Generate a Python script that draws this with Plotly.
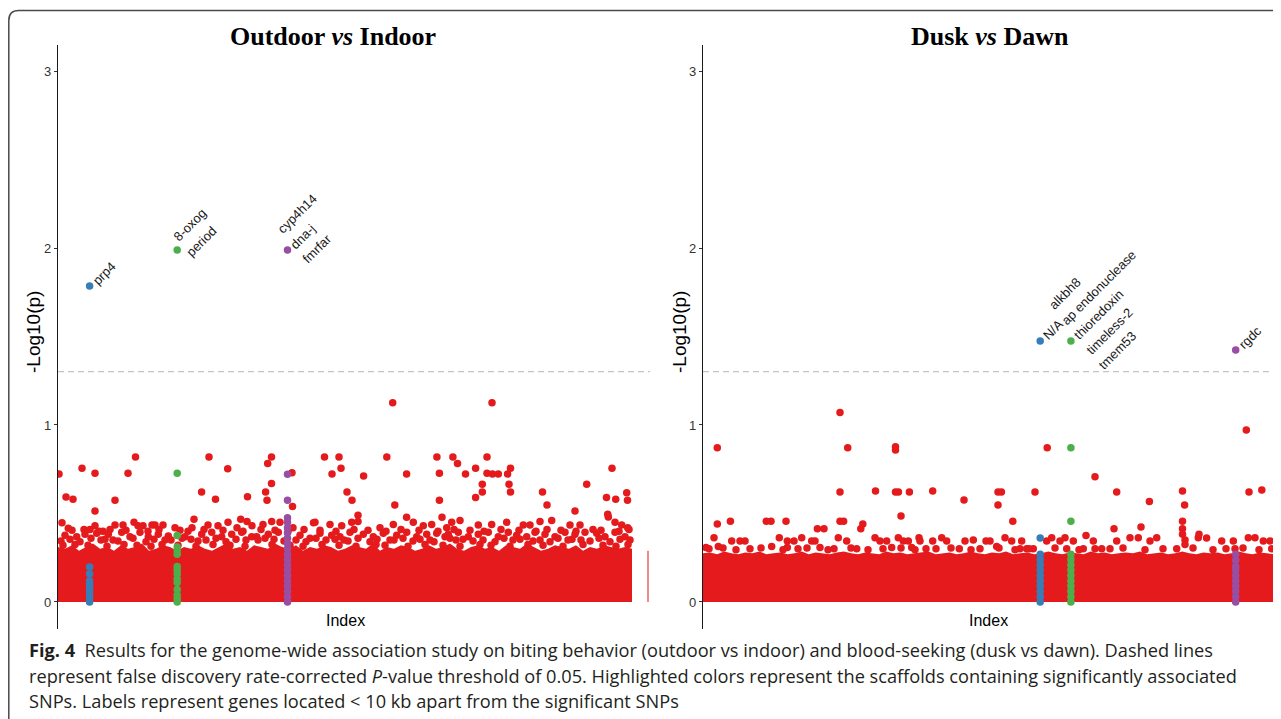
import plotly.graph_objects as go

# The page body has an 8px margin, so the figure is sized to fill the rest of the window.
PAGE_OFF = 8
FIG_W, FIG_H = 1281 - PAGE_OFF, 719 - PAGE_OFF
RED, BLUE, GREEN, PURPLE = "#E41A1C", "#377EB8", "#4DAF4A", "#984EA3"
THRESH = 1.30103  # -log10(0.05), FDR threshold

# ======================= Outdoor vs Indoor (left) =======================
out_title = "<b>Outdoor <i>vs</i> Indoor</b>"
# upper edge of the dense mass of non-significant SNPs (index 0 .. 574)
out_band = [0.31, 0.30, 0.32, 0.29, 0.31, 0.33, 0.30, 0.31, 0.29, 0.32, 0.30, 0.31, 0.33, 0.29,
            0.30, 0.32, 0.31, 0.29, 0.31, 0.30, 0.32, 0.30, 0.29, 0.31, 0.33, 0.30, 0.31, 0.29,
            0.32, 0.31, 0.30, 0.33, 0.31, 0.30, 0.32, 0.29, 0.31, 0.30, 0.32, 0.31, 0.29, 0.30,
            0.32, 0.31, 0.30, 0.33, 0.29, 0.31, 0.30, 0.32, 0.31, 0.29, 0.30, 0.32, 0.30, 0.31,
            0.33, 0.30, 0.29, 0.31, 0.32, 0.30, 0.31, 0.29, 0.32, 0.31, 0.30, 0.33, 0.31, 0.29,
            0.30, 0.32, 0.31, 0.30, 0.32, 0.29, 0.31, 0.30, 0.32, 0.31, 0.30, 0.31, 0.30]
out_band_end = 574
out_edge_x = [589.7]
out_edge_y = [0.29]

# sparse SNPs above the mass
out_top_x = [1, 4, 8, 15, 24, 37, 37, 57, 70, 77.5, 136, 143.6, 151, 157.5, 169.7, 182.7, 189.5,
             207.6, 209, 209.7, 213.5, 213.5, 234, 234.5, 255.5, 266.5, 274, 281, 283, 289, 294,
             300, 305.6, 328.8, 334.7, 336.8, 348.6, 348.6, 378.9, 381.4, 381.4, 384, 394.9, 399.5,
             407.5, 417.6, 417.6, 424.3, 424.3, 429, 429, 434, 434.4, 440.3, 449.6, 452.5, 451,
             452.5, 484.5, 489, 517, 528.7, 548.5, 549.7, 554, 557.7, 568.7, 569.5]
out_top_y = [0.723, 0.448, 0.593, 0.58, 0.755, 0.727, 0.514, 0.574, 0.727, 0.819, 0.467, 0.622,
             0.819, 0.58, 0.753, 0.467, 0.594, 0.622, 0.574, 0.783, 0.819, 0.67, 0.73, 0.539,
             0.448, 0.819, 0.723, 0.819, 0.755, 0.622, 0.574, 0.49, 0.712, 0.819, 1.126, 0.548,
             0.723, 0.478, 0.819, 0.727, 0.574, 0.478, 0.819, 0.783, 0.723, 0.755, 0.59, 0.622,
             0.665, 0.819, 0.727, 1.126, 0.723, 0.723, 0.723, 0.755, 0.665, 0.622, 0.622, 0.548,
             0.514, 0.665, 0.59, 0.496, 0.755, 0.58, 0.617, 0.574]
# the cloud of SNPs just above the mass
out_cloud_x = [10.3, 32, 37, 45, 57, 65, 76, 80, 85, 94, 97, 105, 117, 134, 150, 160, 170, 179, 189,
               194, 205, 213.7, 222, 235, 257, 272, 283.7, 293.7, 300, 322, 335.3, 355.3, 365.3,
               373.7, 388.7, 393.7, 402, 420.3, 433.7, 448.7, 465.3, 472, 482, 493.7, 512, 522,
               550.3, 557, 563.7, 569.7,
               14, 26, 41, 52, 68, 90, 101, 122, 130, 146, 165, 185, 203, 217, 230, 246, 262, 278,
               296, 310, 328, 343, 361, 380, 396, 412, 426, 443, 461, 478, 489, 503, 518, 535, 543,
               561, 571,
               7, 18.7, 27, 38.7, 50.3, 63.7, 72, 82, 90.3, 100.3, 110.3, 127, 143.7, 153.7, 163.7,
               173.7, 183.7, 193.7, 198.7, 210.3, 220.3, 242, 252, 262, 273.7, 282, 292, 305.3,
               315.3, 325.3, 338.7, 348.7, 358.7, 368.7, 378.7, 387, 390.3, 400.3, 410.3, 420.3,
               430.3, 440.3, 450.3, 458.7, 468.7, 477, 487, 497, 507, 517, 527, 538.7, 547, 557, 567,
               12, 33, 47, 55, 75, 96, 107, 124, 133, 148, 158, 178, 188, 207, 216, 238, 258, 277,
               286, 300, 319, 336, 345, 362, 372, 392, 405, 425, 446, 462, 482, 500, 514, 523, 541,
               562,
               3, 22, 43, 60, 88, 113, 140, 168, 200, 226, 248, 268, 290, 312, 332, 355, 376, 398,
               415, 437, 455, 475, 492, 510, 532, 552, 572,
               5, 17, 30, 49, 66, 79, 93, 104, 120, 138, 155, 172, 187, 214, 232, 245, 264, 281,
               298, 318, 327, 350, 367, 385, 402, 422, 433, 452, 470, 485, 505, 525, 545, 558, 570]
out_cloud_y = [0.416, 0.41, 0.43, 0.40, 0.435, 0.435, 0.45, 0.43, 0.43, 0.435, 0.435, 0.435, 0.42,
               0.42, 0.435, 0.43, 0.45, 0.42, 0.455, 0.43, 0.437, 0.455, 0.45, 0.42, 0.45, 0.437,
               0.43, 0.45, 0.455, 0.42, 0.437, 0.45, 0.43, 0.437, 0.42, 0.45, 0.46, 0.435, 0.437,
               0.45, 0.435, 0.435, 0.455, 0.46, 0.435, 0.435, 0.48, 0.45, 0.435, 0.42,
               0.405, 0.41, 0.40, 0.41, 0.405, 0.40, 0.41, 0.405, 0.40, 0.41, 0.405, 0.40, 0.41,
               0.405, 0.40, 0.41, 0.405, 0.40, 0.41, 0.405, 0.40, 0.41, 0.405, 0.40, 0.41, 0.405,
               0.40, 0.41, 0.405, 0.40, 0.41, 0.405, 0.40, 0.41, 0.405, 0.40, 0.41,
               0.377, 0.369, 0.382, 0.388, 0.382, 0.394, 0.369, 0.394, 0.369, 0.382, 0.373, 0.369,
               0.382, 0.394, 0.369, 0.382, 0.394, 0.369, 0.369, 0.382, 0.394, 0.377, 0.36, 0.388,
               0.377, 0.369, 0.394, 0.382, 0.369, 0.388, 0.377, 0.394, 0.369, 0.382, 0.388, 0.369,
               0.382, 0.394, 0.369, 0.382, 0.394, 0.369, 0.394, 0.377, 0.369, 0.394, 0.382, 0.369,
               0.394, 0.382, 0.394, 0.388, 0.369, 0.394, 0.369,
               0.355, 0.36, 0.355, 0.35, 0.36, 0.355, 0.35, 0.36, 0.355, 0.35, 0.36, 0.355, 0.35,
               0.36, 0.355, 0.35, 0.36, 0.355, 0.35, 0.36, 0.355, 0.35, 0.36, 0.355, 0.35, 0.36,
               0.355, 0.35, 0.36, 0.355, 0.35, 0.36, 0.355, 0.35, 0.36, 0.355,
               0.345, 0.34, 0.35, 0.345, 0.34, 0.35, 0.345, 0.34, 0.35, 0.345, 0.34, 0.35, 0.345,
               0.34, 0.35, 0.345, 0.34, 0.35, 0.345, 0.34, 0.35, 0.345, 0.34, 0.35, 0.345, 0.34,
               0.35,
               0.32, 0.325, 0.32, 0.315, 0.325, 0.32, 0.315, 0.325, 0.32, 0.315, 0.325, 0.32,
               0.315, 0.325, 0.32, 0.315, 0.325, 0.32, 0.315, 0.325, 0.32, 0.315, 0.325, 0.32,
               0.315, 0.325, 0.32, 0.315, 0.325, 0.32, 0.315, 0.325, 0.32, 0.315, 0.325]

# highlighted scaffolds
out_hl = [
    dict(color=BLUE, x=31.6,
         y=[0.0, 0.02, 0.04, 0.06, 0.08, 0.10, 0.12, 0.16, 0.197, 1.785],
         top=1.785, label=["prp4"]),
    dict(color=GREEN, x=119.2,
         y=[0.0, 0.02, 0.04, 0.07, 0.11, 0.13, 0.16, 0.18, 0.20, 0.27, 0.29, 0.31, 0.375, 0.727, 1.989],
         top=1.989, label=["8-oxog", "period"]),
    dict(color=PURPLE, x=229.5,
         y=[0.0, 0.03, 0.06, 0.09, 0.12, 0.15, 0.18, 0.21, 0.24, 0.27, 0.30, 0.33, 0.36, 0.39,
            0.42, 0.45, 0.476, 0.574, 0.722, 1.989],
         top=1.989, label=["cyp4h14", "dna-j", "fmrfar"]),
]

# ======================= Dusk vs Dawn (right) =======================
dd_title = "<b>Dusk <i>vs</i> Dawn</b>"
dd_band = [0.275, 0.28, 0.27, 0.285, 0.275, 0.27, 0.28, 0.275, 0.285, 0.27, 0.275, 0.28, 0.27,
           0.275, 0.285, 0.27, 0.28, 0.275, 0.27, 0.28, 0.285, 0.275, 0.27, 0.28, 0.275, 0.27,
           0.285, 0.275, 0.28, 0.27, 0.275, 0.28, 0.285, 0.27, 0.275, 0.28, 0.27, 0.275, 0.285,
           0.275, 0.27, 0.28, 0.275, 0.285, 0.27, 0.275, 0.28, 0.27, 0.275, 0.285, 0.275, 0.27,
           0.28, 0.275, 0.27, 0.285, 0.275, 0.28, 0.27, 0.275, 0.28, 0.275, 0.285, 0.27, 0.275,
           0.28, 0.27, 0.275, 0.285, 0.275, 0.27, 0.28, 0.275, 0.28, 0.27, 0.275, 0.285, 0.275,
           0.27, 0.28, 0.275, 0.27, 0.28]
dd_band_end = 578

dd_top_x = [14.3, 14.3, 137, 137, 137, 140.6, 144.7, 157.8, 159.8, 172.5, 192.5, 192.5, 192.5,
            195.4, 198, 206.4, 229.7, 261, 295, 295, 298.4, 309.8, 332, 344.2, 383, 392, 413.7,
            411, 438, 446.4, 479.5, 481.6, 479.5, 479.5, 479.5, 496, 503.6, 543.3, 546, 558.8,
            27.4, 63.3, 68, 83, 114.4, 121]
dd_top_y = [0.872, 0.441, 1.07, 0.621, 0.456, 0.456, 0.872, 0.414, 0.441, 0.627, 0.877, 0.859,
            0.621, 0.621, 0.486, 0.621, 0.627, 0.576, 0.621, 0.548, 0.621, 0.456, 0.621, 0.872,
            0.376, 0.708, 0.621, 0.414, 0.424, 0.567, 0.627, 0.548, 0.456, 0.414, 0.382, 0.382,
            0.361, 0.972, 0.621, 0.633,
            0.456, 0.456, 0.456, 0.456, 0.414, 0.414]
dd_cloud_x = [3, 11, 15.3, 28.7, 37, 42, 68.7, 76.3, 84.3, 84.3, 91, 98.7, 108.7, 112, 117, 135.3,
              143.7, 153.7, 172, 177, 183.7, 188.7, 195.3, 200.3, 205.3, 208.7, 216, 217, 223,
              229.7, 238.7, 243.7, 256.3, 262, 270.3, 283,
              287, 293.7, 302, 308.7, 318.7, 317, 323.7, 330.3, 343.7, 348.7, 357, 362, 363.7,
              370.3, 380.3, 390.3, 398.7, 413.7, 407, 427, 435.3, 447, 453.7, 473.7, 482, 482,
              495.3, 518.7, 530.3, 532, 545.3, 552, 560.3, 567, 568.7,
              6, 20, 33, 47, 58, 80, 95, 104, 125, 131, 148, 165, 180, 198, 212, 233, 248, 268,
              277, 296, 312, 326, 352, 376, 392, 420, 442, 460, 490, 510, 523, 540, 556, 575]
dd_cloud_y = [0.307, 0.363, 0.313, 0.345, 0.345, 0.345, 0.313, 0.363, 0.345, 0.307, 0.345, 0.363,
              0.345, 0.345, 0.307, 0.363, 0.345, 0.30, 0.363, 0.345, 0.345, 0.307, 0.363, 0.345,
              0.345, 0.307, 0.363, 0.345, 0.30, 0.345, 0.363, 0.345, 0.30, 0.345, 0.35, 0.345,
              0.345, 0.313, 0.363, 0.345, 0.345, 0.30, 0.30, 0.30, 0.345, 0.363, 0.345, 0.363,
              0.30, 0.345, 0.30, 0.345, 0.30, 0.345, 0.30, 0.363, 0.363, 0.345, 0.363, 0.30, 0.35,
              0.325, 0.363, 0.345, 0.345, 0.30, 0.363, 0.363, 0.345, 0.345, 0.30,
              0.30, 0.305, 0.295, 0.30, 0.305, 0.295, 0.30, 0.305, 0.295, 0.30, 0.305, 0.295,
              0.30, 0.305, 0.295, 0.30, 0.305, 0.295, 0.30, 0.305, 0.295, 0.30, 0.305, 0.295,
              0.30, 0.305, 0.295, 0.30, 0.305, 0.295, 0.30, 0.305, 0.295, 0.30]

dd_hl = [
    dict(color=BLUE, x=337.2,
         y=[0.0, 0.03, 0.06, 0.09, 0.12, 0.15, 0.18, 0.21, 0.24, 0.27, 0.361, 1.475],
         top=1.475, label=["N/A"]),
    dict(color=GREEN, x=367.9,
         y=[0.0, 0.03, 0.06, 0.09, 0.12, 0.15, 0.18, 0.21, 0.24, 0.27, 0.456, 0.872, 1.475],
         top=1.475, label=["alkbh8", "ap endonuclease", "thioredoxin", "timeless-2", "tmem53"]),
    dict(color=PURPLE, x=532.7,
         y=[0.0, 0.03, 0.06, 0.09, 0.12, 0.15, 0.18, 0.20, 0.235, 0.27, 1.424],
         top=1.424, label=["rgdc"]),
]

caption_lines = [
    "<b>Fig. 4</b>\u00a0\u00a0Results for the genome-wide association study on biting behavior (outdoor vs indoor) and blood-seeking (dusk vs dawn). Dashed lines",
    "represent false discovery rate-corrected <i>P</i>-value threshold of 0.05. Highlighted colors represent the scaffolds containing significantly associated",
    "SNPs. Labels represent genes located &lt; 10 kb apart from the significant SNPs",
]


# ======================= figure =======================
def px_x(p):  # screen pixel -> paper
    return (p - PAGE_OFF) / FIG_W


def px_y(p):
    return 1 - (p - PAGE_OFF) / FIG_H


fig = go.Figure()
MS = 7.5


def add_panel(xa, ya, band, band_end, tx, ty, cx, cy, hl, xmax):
    n = len(band)
    bx = [i * band_end / (n - 1) for i in range(n)]
    fig.add_trace(go.Scatter(x=bx, y=band, mode="lines", fill="tozeroy",
                             line=dict(width=0, color=RED), fillcolor=RED,
                             xaxis=xa, yaxis=ya, hoverinfo="skip"))
    fig.add_trace(go.Scatter(x=cx + tx, y=cy + ty, mode="markers",
                             marker=dict(color=RED, size=MS, line=dict(width=0)),
                             xaxis=xa, yaxis=ya))
    fig.add_trace(go.Scatter(x=[0, xmax], y=[THRESH, THRESH], mode="lines",
                             line=dict(color="#C4C4C4", width=1.3, dash="6px,4px"),
                             xaxis=xa, yaxis=ya))
    for h in hl:
        fig.add_trace(go.Scatter(x=[h["x"]] * len(h["y"]), y=h["y"], mode="markers",
                                 marker=dict(color=h["color"], size=MS, line=dict(width=0)),
                                 xaxis=xa, yaxis=ya))


add_panel("x", "y", out_band, out_band_end, out_top_x, out_top_y, out_cloud_x, out_cloud_y, out_hl, 592)
fig.add_trace(go.Bar(x=out_edge_x, y=out_edge_y, width=1.0,
                     marker=dict(color="#EE8A8B", line=dict(width=0)), xaxis="x", yaxis="y"))
add_panel("x2", "y2", dd_band, dd_band_end, dd_top_x, dd_top_y, dd_cloud_x, dd_cloud_y, dd_hl, 578)

ydom = [px_y(628.5), px_y(44.5)]
yax = dict(range=[-0.15, 3.15], domain=ydom, tickvals=[0, 1, 2, 3], ticktext=["0", "1", "2", "3"],
           ticks="outside", ticklen=3, tickwidth=1, tickcolor="#333333",
           tickfont=dict(family="Liberation Sans", size=13, color="#333333"),
           showgrid=False, zeroline=False, showline=True, linecolor="#1a1a1a", linewidth=1.3,
           fixedrange=True)
fig.update_layout(
    width=FIG_W, height=FIG_H, margin=dict(l=0, r=0, t=0, b=0),
    paper_bgcolor="white", plot_bgcolor="white", showlegend=False,
    xaxis=dict(domain=[px_x(58), px_x(650)], range=[0, 592], visible=False),
    xaxis2=dict(domain=[px_x(703), 1.0], range=[0, 578], visible=False),
    yaxis=dict(anchor="x", **yax),
    yaxis2=dict(anchor="x2", **yax),
)

ann = []
# panel titles
for txt, cxp in [(out_title, 333), (dd_title, 990)]:
    ann.append(dict(text=txt, x=px_x(cxp), y=px_y(37), xref="paper", yref="paper",
                    xanchor="center", yanchor="middle", showarrow=False,
                    font=dict(family="Liberation Serif", size=26, color="black")))
# axis titles
for cxp in [33, 679]:
    ann.append(dict(text="-Log10(p)", x=px_x(cxp), y=px_y(332), xref="paper", yref="paper",
                    xanchor="center", yanchor="middle", showarrow=False, textangle=-90,
                    font=dict(family="Liberation Sans", size=19, color="black")))
for cxp in [345, 988]:
    ann.append(dict(text="Index", x=px_x(cxp), y=px_y(620), xref="paper", yref="paper",
                    xanchor="center", yanchor="middle", showarrow=False,
                    font=dict(family="Liberation Sans", size=16, color="black")))
# gene labels: one line each, rotated 45 degrees, stacked below-right of each other
LF = 13
STEP_X, STEP_Y = 12.3, 15.0   # screen offset between consecutive label lines
GAP_X, GAP_Y = 5.0, -3.5      # start of the middle line relative to the point
H1 = 1.12 * LF
for xa, ya, hl in [("x", "y", out_hl), ("x2", "y2", dd_hl)]:
    for h in hl:
        nl = len(h["label"])
        for k, word in enumerate(h["label"]):
            m = k - (nl - 1) / 2
            sx = GAP_X + m * STEP_X          # wanted left-middle, screen coords
            sy = GAP_Y + m * STEP_Y
            xs = sx - 0.3536 * H1
            ys = -sy - 0.3536 * H1
            ann.append(dict(text=word, x=h["x"], y=h["top"], xref=xa, yref=ya,
                            xanchor="left", yanchor="bottom", showarrow=False,
                            textangle=-45, xshift=xs, yshift=ys, borderpad=0, borderwidth=0,
                            font=dict(family="Liberation Sans", size=LF, color="#1a1a1a")))
# caption
for line, cyp in zip(caption_lines, [650, 676, 701]):
    ann.append(dict(text=line, x=px_x(27), y=px_y(cyp), xref="paper", yref="paper",
                    xanchor="left", yanchor="middle", showarrow=False, align="left",
                    font=dict(family="Open Sans", size=18.2, color="#231f20")))
fig.update_layout(annotations=ann)

# rounded frame around the figure
x0, yt = px_x(8.8), px_y(10.5)
dx, dy = 10 / FIG_W, 10 / FIG_H
fig.add_shape(type="path", xref="paper", yref="paper",
              path=f"M {x0},-0.05 L {x0},{yt - dy} Q {x0},{yt} {x0 + dx},{yt} L 1.05,{yt}",
              line=dict(color="#4a4a4a", width=1.5))

fig.write_html("out.html")
